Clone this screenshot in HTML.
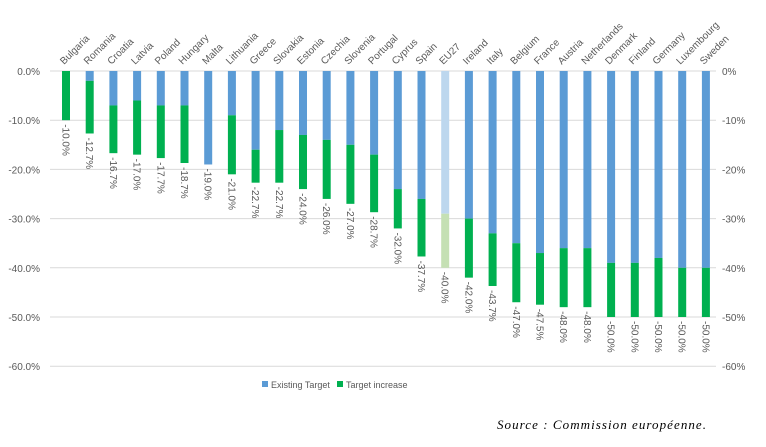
<!DOCTYPE html>
<html><head><meta charset="utf-8"><style>
body{margin:0;background:#fff;width:766px;height:442px;overflow:hidden;font-family:"Liberation Sans",sans-serif}
svg text{font-family:"Liberation Sans",sans-serif;fill:#595959}
</style></head><body>
<svg id="chart" width="766" height="442" xmlns="http://www.w3.org/2000/svg"></svg>
<script>
const countries=["Bulgaria","Romania","Croatia","Latvia","Poland","Hungary","Malta","Lithuania","Greece","Slovakia","Estonia","Czechia","Slovenia","Portugal","Cyprus","Spain","EU27","Ireland","Italy","Belgium","France","Austria","Netherlands","Denmark","Finland","Germany","Luxembourg","Sweden"];
const existing=[0,-2,-7,-6,-7,-7,-19,-9,-16,-12,-13,-14,-15,-17,-24,-26,-29,-30,-33,-35,-37,-36,-36,-39,-39,-38,-40,-40];
const totals=[-10.0,-12.7,-16.7,-17.0,-17.7,-18.7,-19.0,-21.0,-22.7,-22.7,-24.0,-26.0,-27.0,-28.7,-32.0,-37.7,-40.0,-42.0,-43.7,-47.0,-47.5,-48.0,-48.0,-50.0,-50.0,-50.0,-50.0,-50.0];
const ticks=[0,-10,-20,-30,-40,-50,-60];
const svg=document.getElementById('chart');const NS='http://www.w3.org/2000/svg';
function mk(t,a,p){const e=document.createElementNS(NS,t);for(const k in a)e.setAttribute(k,a[k]);(p||svg).appendChild(e);return e;}
const y=v=>71-v*4.92;
const x=i=>66+i*23.7;
ticks.forEach(t=>{
 const g=mk('line',{x1:50,x2:716,y1:y(t),y2:y(t),stroke:'#d9d9d9','stroke-width':1});
 
 
 const l=mk('text',{x:40,y:y(t)+4,'text-anchor':'end','font-size':10});l.textContent=t.toFixed(1)+'%';
 
 
 const r=mk('text',{x:722,y:y(t)+4,'font-size':10});r.textContent=t+'%';
 
 
});
countries.forEach((c,i)=>{
 const eu=c==='EU27';const bw=8,cx=x(i);
 const b=mk('rect',{x:cx-bw/2,y:y(0),width:bw,height:y(existing[i])-y(0),fill:eu?'#bdd7ee':'#5b9bd5'});
 
 
 const g=mk('rect',{x:cx-bw/2,y:y(existing[i]),width:bw,height:y(totals[i])-y(existing[i]),fill:eu?'#c5e0b4':'#00b050'});
 
 
 const vl=mk('text',{'font-size':10,transform:`translate(${cx-3.5},${y(totals[i])+4}) rotate(90)`});vl.textContent=totals[i].toFixed(1)+'%';
 
 
 const cl=mk('text',{'font-size':10,transform:`translate(${cx-2},${65}) rotate(-45)`});cl.textContent=c;
 
 
});
const l1=mk('rect',{x:262,y:381,width:6,height:6,fill:'#5b9bd5'});


const t1=mk('text',{x:271,y:388,'font-size':9});t1.textContent='Existing Target';


const l2=mk('rect',{x:337,y:381,width:6,height:6,fill:'#00b050'});


const t2=mk('text',{x:346,y:388,'font-size':9});t2.textContent='Target increase';


const s=mk('text',{x:497,y:429,'font-size':13,'font-style':'italic',textLength:209,lengthAdjust:'spacing',style:'font-family:"Liberation Serif",serif;fill:#000'});s.textContent='Source : Commission européenne.';


</script>
</body></html>
